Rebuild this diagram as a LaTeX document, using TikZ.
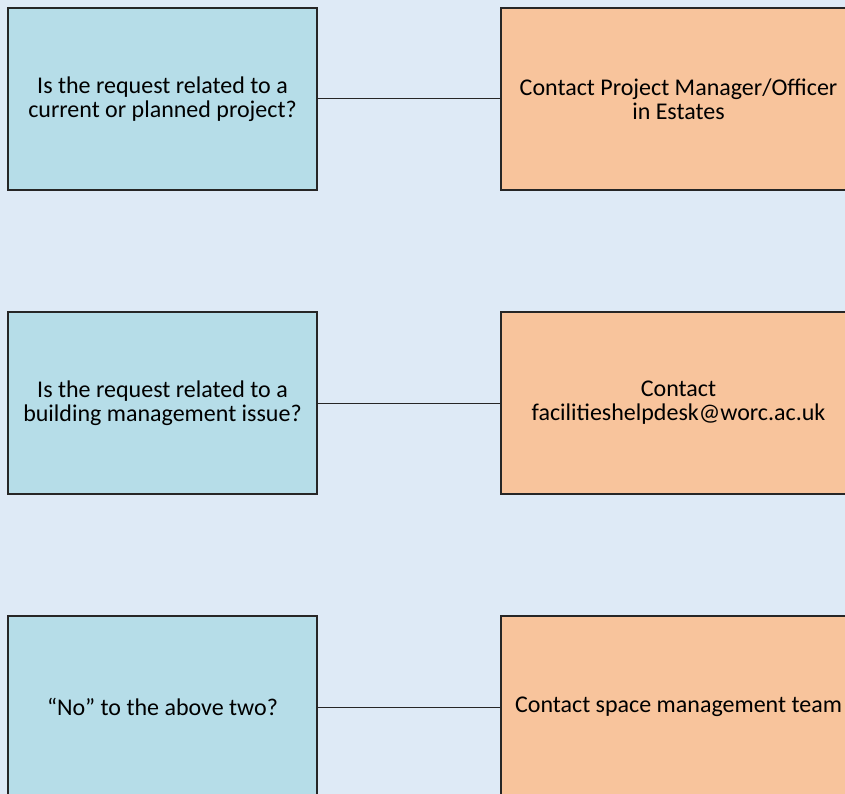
\documentclass[tikz,border=0pt]{standalone}
\usepackage{fontspec}
\setmainfont{Carlito}
\usepackage{xcolor}
\usetikzlibrary{positioning}

\definecolor{pageblue}{HTML}{DEEAF6}
\definecolor{askblue}{HTML}{B6DDE8}
\definecolor{replyorange}{HTML}{F8C49C}

\begin{document}
\begin{tikzpicture}[
  x=1pt, y=-1pt,
  question/.style={
    draw=black!85, fill=askblue, line width=1.2pt,
    minimum width=309pt, minimum height=182pt,
    font=\fontsize{24}{24}\selectfont, align=center, inner sep=0pt
  },
  answer/.style={
    question, fill=replyorange, minimum width=355pt
  },
  link/.style={draw=black!85, line width=1pt}
]

% Page area and background
\useasboundingbox (0,0) rectangle (845,794);
\fill[pageblue] (0,0) rectangle (845,794);
\clip (0,0) rectangle (845,794);

% Questions on the left
\node[question] (proj)  at (162.5,99)  {Is the request related to a\\current or planned project?};
\node[question] (bms)   at (162.5,403) {Is the request related to a\\building management issue?};
\node[question] (other) at (162.5,707) {``No'' to the above two?};

% Who to contact on the right
\node[answer] (estates)  at (678.5,99)  {Contact Project Manager/Officer\\in Estates};
\node[answer] (helpdesk) at (678.5,403) {Contact\\facilitieshelpdesk@worc.ac.uk};
\node[answer] (space)    at (678.5,707) {Contact space management team};

% Connectors
\draw[link] (proj) -- (estates);
\draw[link] (bms) -- (helpdesk);
\draw[link] (other) -- (space);

\end{tikzpicture}
\end{document}
